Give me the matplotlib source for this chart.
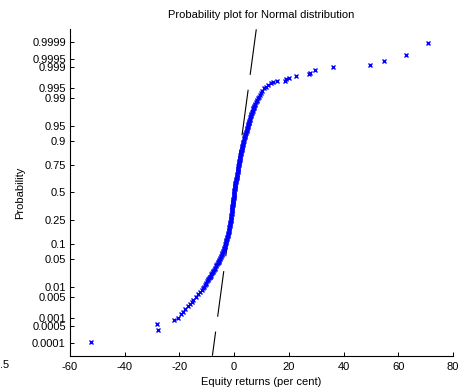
import matplotlib
matplotlib.use('Agg')
import matplotlib.pyplot as plt
from statistics import NormalDist

plt.rcParams['font.family'] = ['Liberation Sans', 'DejaVu Sans']
plt.rcParams['font.size'] = 8
plt.rcParams['axes.unicode_minus'] = False

# probability levels (plotting positions) and equity returns
prob = [0.000114, 0.00034, 0.00057, 0.0008, 0.001, 0.0013, 0.0016, 0.002,
        0.0025, 0.003, 0.0035, 0.004, 0.005, 0.006, 0.007, 0.008, 0.009,
        0.010, 0.012, 0.014, 0.016, 0.018, 0.020, 0.023, 0.026, 0.030,
        0.034, 0.038, 0.042, 0.046, 0.050, 0.056, 0.062, 0.068, 0.075,
        0.082, 0.090, 0.100, 0.110, 0.120, 0.130, 0.140, 0.150, 0.165,
        0.180, 0.195, 0.210, 0.225, 0.240, 0.260, 0.280, 0.300, 0.320,
        0.340, 0.360, 0.380, 0.400, 0.420, 0.440, 0.460, 0.480, 0.500,
        0.520, 0.540, 0.560, 0.580, 0.600, 0.620, 0.640, 0.660, 0.680,
        0.700, 0.720, 0.740, 0.760, 0.775, 0.790, 0.805, 0.820, 0.835,
        0.850, 0.860, 0.870, 0.880, 0.890, 0.900, 0.910, 0.918, 0.925,
        0.932, 0.938, 0.944, 0.950, 0.954, 0.958, 0.962, 0.966, 0.970,
        0.974, 0.977, 0.980, 0.982, 0.984, 0.986, 0.988, 0.990, 0.991,
        0.992, 0.993, 0.994, 0.995, 0.9955, 0.996, 0.9965, 0.9969, 0.99705,
        0.99715, 0.99740, 0.99770, 0.99795, 0.99825, 0.99845, 0.99872,
        0.99900, 0.99920, 0.99942, 0.99966, 0.99989]

returns = [-52.2, -28.0, -28.3, -21.8, -20.6, -19.5, -18.7, -17.8,
           -17.0, -16.2, -15.5, -14.9, -13.9, -13.1, -12.4, -11.8, -11.4,
           -11.0, -10.45, -9.9, -9.4, -8.95, -8.6, -8.1, -7.65, -7.1,
           -6.65, -6.2, -5.85, -5.5, -5.25, -4.85, -4.55, -4.3, -4.0,
           -3.75, -3.5, -3.25, -3.0, -2.8, -2.6, -2.4, -2.25, -2.05,
           -1.85, -1.7, -1.55, -1.4, -1.3, -1.15, -1.0, -0.9, -0.85,
           -0.75, -0.6, -0.5, -0.4, -0.35, -0.25, -0.15, -0.05, 0.05,
           0.1, 0.2, 0.35, 0.45, 0.6, 0.75, 0.9, 1.0, 1.15,
           1.3, 1.45, 1.6, 1.75, 1.85, 2.0, 2.15, 2.3, 2.5,
           2.65, 2.8, 2.95, 3.1, 3.25, 3.45, 3.7, 3.95, 4.15,
           4.4, 4.65, 4.85, 5.1, 5.25, 5.4, 5.6, 5.8, 6.05,
           6.35, 6.6, 6.9, 7.15, 7.4, 7.7, 8.2, 8.8, 9.2,
           9.5, 9.85, 10.3, 11.1, 11.7, 12.3, 13.4, 14.2, 15.6,
           18.7, 18.9, 20.1, 22.6, 27.2, 27.6, 29.6,
           36.2, 49.7, 54.9, 62.8, 70.8]

# further readings inside the dense central band
prob_band = [0.011, 0.013, 0.015, 0.017, 0.019, 0.0215, 0.0245, 0.028,
             0.032, 0.036, 0.040, 0.044, 0.048, 0.053, 0.059, 0.065,
             0.0715, 0.0785, 0.086, 0.095, 0.105, 0.115, 0.125, 0.135,
             0.145, 0.1575, 0.1725, 0.1875, 0.2025, 0.2175, 0.2325, 0.25,
             0.27, 0.29, 0.31, 0.33, 0.35, 0.37, 0.39, 0.41, 0.43, 0.45,
             0.47, 0.49, 0.51, 0.53, 0.55, 0.57, 0.59, 0.61, 0.63, 0.65,
             0.67, 0.69, 0.71, 0.73, 0.75, 0.7675, 0.7825, 0.7975, 0.8125,
             0.8275, 0.8425, 0.855, 0.865, 0.875, 0.885, 0.895, 0.905,
             0.914, 0.9215, 0.9285, 0.935, 0.941, 0.947, 0.952, 0.956,
             0.960, 0.964, 0.968, 0.972, 0.9755, 0.9785, 0.981, 0.983,
             0.985, 0.987, 0.989]

returns_band = [-10.7, -10.15, -9.65, -9.2, -8.75, -8.35, -7.85, -7.35,
                -6.85, -6.45, -6.0, -5.7, -5.4, -5.05, -4.7, -4.4,
                -4.15, -3.85, -3.6, -3.35, -3.15, -2.9, -2.7, -2.5,
                -2.35, -2.15, -1.95, -1.8, -1.65, -1.5, -1.4, -1.25,
                -1.1, -1.0, -0.9, -0.8, -0.7, -0.6, -0.45, -0.35, -0.3, -0.2,
                -0.1, 0.0, 0.05, 0.15, 0.25, 0.4, 0.5, 0.65, 0.8, 0.95,
                1.1, 1.25, 1.4, 1.55, 1.7, 1.8, 1.95, 2.1, 2.25,
                2.4, 2.6, 2.75, 2.9, 3.05, 3.2, 3.35, 3.6,
                3.85, 4.05, 4.3, 4.55, 4.75, 4.95, 5.15, 5.3,
                5.5, 5.7, 5.9, 6.2, 6.45, 6.75, 7.0, 7.25,
                7.55, 7.95, 8.5]

# fitted normal reference line
mu = 0.08
sigma = 1.99

prob_ticks = [0.0001, 0.0005, 0.001, 0.005, 0.01, 0.05, 0.1, 0.25, 0.5,
              0.75, 0.9, 0.95, 0.99, 0.995, 0.999, 0.9995, 0.9999]
prob_labels = ['0.0001', '0.0005', '0.001', '0.005', '0.01', '0.05', '0.1',
               '0.25', '0.5', '0.75', '0.9', '0.95', '0.99', '0.995',
               '0.999', '0.9995', '0.9999']
x_ticks = [-60, -40, -20, 0, 20, 40, 60, 80]

nd = NormalDist()
pairs = sorted(zip(prob + prob_band, returns + returns_band))
all_x = [r for p, r in pairs]
all_z = [nd.inv_cdf(p) for p, r in pairs]
zmax = 4.03

fig = plt.figure(figsize=(4.61, 3.89), dpi=100)
ax = fig.add_axes([0.1518, 0.0856, 0.8308, 0.8391])

line_z = [zmax, -zmax]
line_x = [mu + sigma * q for q in line_z]
ax.plot(line_x, line_z, color='black', lw=0.8, linestyle=(0, (41.4, 13.5)), zorder=1)
ax.plot(all_x, all_z, linestyle='none', marker='x', color='blue',
        markersize=3.5, markeredgewidth=1.0, zorder=2)

ax.set_xlim(-60, 80)
ax.set_ylim(-zmax, zmax)
ax.set_xticks(x_ticks)
ax.set_yticks([nd.inv_cdf(p) for p in prob_ticks])
ax.set_yticklabels(prob_labels)

for side in ['top', 'right']:
    ax.spines[side].set_visible(False)
for side in ['left', 'bottom']:
    ax.spines[side].set_linewidth(0.8)
ax.tick_params(direction='in', length=3, width=0.7)
ax.tick_params(axis='x', pad=4.5)
ax.tick_params(axis='y', pad=3)

ax.set_title('Probability plot for Normal distribution', fontsize=8, pad=8)
ax.set_xlabel('Equity returns (per cent)')
ax.set_ylabel('Probability')
ax.xaxis.set_label_coords(0.5, -0.064)
ax.yaxis.set_label_coords(-0.1175, 0.5)

# fragment of a neighbouring label cut off by the left border
fig.text(0.0206, 0.0617, '.5', ha='right', va='center')

fig.savefig('out.png', dpi=100)
